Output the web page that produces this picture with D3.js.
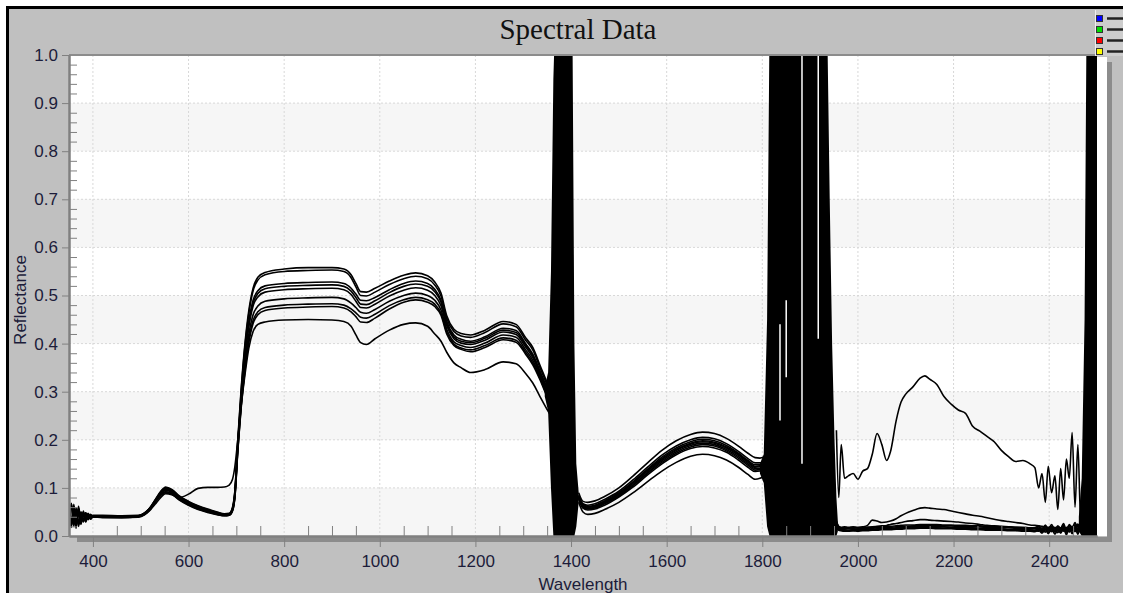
<!DOCTYPE html>
<html>
<head>
<meta charset="utf-8">
<script src="https://d3js.org/d3.v7.min.js"></script>
<style>
body { margin: 0; background: #fff; }
</style>
</head>
<body>
<div id="chart"></div>
<script>
// axis ticks
var xTicks = [400, 600, 800, 1000, 1200, 1400, 1600, 1800, 2000, 2200, 2400];
var yTicks = [0.0, 0.1, 0.2, 0.3, 0.4, 0.5, 0.6, 0.7, 0.8, 0.9, 1.0];
var legendColors = ["#0000ff", "#00dd00", "#ff0000", "#ffff00"];

// wavelength knots, segment 1 (350 - 1358 nm)
var wl1 = [350, 355, 360, 365, 370, 375, 380, 385, 390, 395, 400,
	420, 460, 495, 508, 518, 530, 542, 552, 565, 580, 600, 620, 640, 660, 675, 685, 692, 697, 703, 710, 718, 726, 735, 745,
	760, 800, 850, 900, 925, 940, 950, 960, 972, 990, 1020, 1050, 1075, 1100, 1115, 1128, 1140, 1155, 1170, 1190,
	1220, 1258, 1285, 1305, 1320, 1335, 1350, 1358];

var s1_a = [.064, .022, .060, .024, .054, .030, .048, .034, .045, .037, .041,
	.040, .039, .040, .046, .056, .074, .092, .102, .097, .084, .072, .063, .056, .050, .046, .047, .060, .095, .200, .305, .400, .468, .515, .538,
	.548, .555, .558, .558, .555, .543, .525, .508, .507, .515, .530, .542, .547, .541, .528, .505, .458, .430, .421, .418,
	.428, .446, .440, .412, .392, .355, .318, .295];
var s2_a = [.025, .063, .020, .058, .027, .050, .031, .046, .035, .043, .040,
	.041, .040, .041, .047, .057, .075, .093, .100, .096, .083, .071, .062, .055, .049, .045, .046, .058, .093, .195, .300, .395, .462, .510, .532,
	.543, .550, .552, .553, .550, .537, .518, .500, .499, .507, .523, .535, .540, .535, .522, .499, .452, .425, .416, .413,
	.423, .441, .435, .407, .387, .350, .313, .290];
var s3_a = [.052, .018, .066, .027, .055, .026, .046, .033, .047, .037, .042,
	.039, .038, .040, .045, .054, .072, .089, .098, .094, .081, .069, .060, .054, .048, .045, .046, .057, .090, .190, .290, .380, .445, .490, .510,
	.520, .525, .527, .528, .525, .515, .503, .490, .489, .496, .512, .525, .530, .525, .513, .490, .446, .418, .409, .405,
	.414, .432, .427, .400, .378, .343, .307, .286];
var s4_a = [.066, .030, .048, .016, .058, .027, .052, .030, .046, .036, .041,
	.042, .041, .042, .048, .057, .074, .090, .097, .093, .080, .068, .059, .053, .047, .044, .045, .056, .088, .188, .288, .375, .440, .484, .504,
	.514, .519, .521, .522, .519, .509, .496, .482, .481, .489, .506, .519, .524, .519, .508, .486, .442, .414, .405, .402,
	.411, .428, .423, .397, .375, .340, .304, .283];
var s5_a = [.030, .068, .024, .054, .020, .050, .029, .048, .034, .044, .039,
	.040, .040, .041, .046, .055, .072, .088, .095, .091, .079, .067, .058, .052, .046, .043, .044, .055, .086, .185, .285, .370, .434, .478, .497,
	.507, .512, .514, .515, .512, .502, .488, .475, .474, .482, .499, .511, .516, .511, .500, .479, .437, .410, .401, .398,
	.407, .424, .419, .393, .371, .337, .300, .281];
var s6_a = [.058, .024, .061, .030, .046, .024, .050, .036, .043, .035, .040,
	.038, .038, .039, .044, .053, .069, .085, .092, .089, .077, .066, .057, .051, .046, .043, .044, .054, .084, .180, .275, .355, .418, .460, .478,
	.488, .493, .495, .496, .493, .484, .475, .465, .463, .471, .488, .500, .505, .500, .490, .470, .430, .404, .396, .392,
	.401, .418, .413, .387, .365, .332, .296, .278];
var s7_a = [.035, .067, .028, .057, .023, .047, .033, .048, .037, .045, .040,
	.041, .041, .042, .047, .055, .071, .086, .092, .088, .076, .065, .056, .050, .045, .042, .043, .053, .082, .178, .270, .348, .407, .448, .466,
	.475, .480, .482, .483, .480, .472, .464, .455, .453, .461, .479, .491, .496, .491, .482, .463, .424, .399, .391, .387,
	.396, .412, .407, .382, .360, .328, .292, .275];
var s8_a = [.061, .028, .050, .021, .055, .034, .043, .029, .045, .039, .043,
	.043, .042, .043, .048, .056, .071, .085, .090, .087, .075, .064, .055, .049, .044, .042, .043, .052, .080, .175, .265, .343, .402, .442, .460,
	.469, .474, .476, .477, .474, .466, .456, .445, .444, .453, .472, .486, .491, .486, .477, .459, .420, .396, .388, .383,
	.392, .408, .403, .378, .356, .325, .289, .272];
var s9_a = [.040, .022, .057, .030, .062, .029, .048, .033, .041, .036, .040,
	.040, .040, .041, .045, .052, .066, .080, .088, .086, .080, .087, .099, .101, .101, .102, .106, .118, .145, .200, .270, .335, .390, .425, .440,
	.445, .449, .450, .449, .446, .436, .418, .402, .398, .410, .428, .440, .443, .436, .420, .405, .382, .360, .350, .340,
	.346, .362, .358, .338, .318, .290, .263, .250];

// segment 2 (1416 - 1805 nm)
var wl2 = [1416, 1425, 1435, 1450, 1470, 1500, 1530, 1560, 1590, 1620, 1650, 1675, 1700, 1725, 1750, 1770, 1785, 1795, 1805];
var s1_b = [.090, .072, .070, .073, .082, .100, .125, .152, .178, .198, .211, .216, .213, .203, .187, .172, .163, .162, .165];
var s2_b = [.085, .067, .064, .067, .076, .093, .117, .143, .168, .187, .200, .205, .202, .192, .176, .161, .152, .152, .155];
var s3_b = [.083, .065, .062, .064, .073, .090, .113, .139, .164, .183, .196, .201, .198, .188, .172, .157, .148, .148, .152];
var s4_b = [.082, .063, .060, .063, .071, .088, .111, .137, .161, .180, .193, .198, .195, .185, .170, .155, .145, .146, .149];
var s5_b = [.081, .062, .059, .062, .070, .087, .110, .135, .159, .178, .191, .196, .193, .183, .168, .153, .143, .144, .148];
var s6_b = [.080, .061, .057, .060, .068, .085, .107, .132, .156, .175, .188, .193, .190, .180, .165, .150, .140, .141, .145];
var s7_b = [.079, .059, .056, .058, .067, .083, .105, .130, .153, .172, .185, .190, .187, .177, .162, .147, .137, .138, .142];
var s8_b = [.077, .058, .054, .056, .064, .081, .102, .127, .150, .169, .182, .186, .183, .174, .158, .143, .134, .135, .139];
var s9_b = [.070, .050, .045, .047, .055, .070, .090, .113, .135, .153, .166, .170, .167, .158, .143, .128, .118, .120, .125];

// segment 3 (1955 - 2472 nm)
var wl3 = [1955, 1960, 1965, 1972, 1980, 1990, 2000, 2010, 2020, 2030,
	2040, 2050, 2060, 2068, 2080, 2090, 2100, 2115, 2130, 2140,
	2150, 2165, 2180, 2195, 2210, 2225, 2240, 2255, 2270, 2285,
	2300, 2315, 2330, 2345, 2360, 2370, 2378, 2385, 2392, 2398,
	2405, 2412, 2418, 2424, 2430, 2436, 2442, 2448, 2454, 2460,
	2466, 2472];
var s1_c = [.030, .020, .018, .019, .018, .019, .018, .019, .022, .033,
	.031, .028, .029, .031, .036, .042, .047, .053, .058, .059,
	.058, .056, .055, .052, .049, .046, .043, .041, .038, .035,
	.032, .030, .028, .026, .023, .022, .021, .020, .019, .018,
	.020, .017, .019, .016, .020, .015, .022, .017, .020, .025,
	.015, .030];
var s2_c = [.025, .016, .017, .016, .017, .016, .017, .017, .018, .019,
	.020, .021, .022, .024, .026, .028, .030, .032, .034, .034,
	.033, .032, .031, .030, .029, .027, .026, .024, .022, .021,
	.020, .019, .018, .017, .016, .016, .015, .017, .013, .016,
	.012, .018, .013, .017, .011, .016, .012, .020, .010, .022,
	.012, .030];
var s3_c = [.018, .012, .011, .010, .010, .011, .010, .011, .011, .012,
	.012, .013, .013, .013, .014, .014, .015, .015, .016, .016,
	.016, .015, .015, .015, .014, .014, .013, .013, .012, .012,
	.012, .011, .011, .010, .010, .009, .012, .006, .013, .005,
	.014, .004, .012, .006, .015, .003, .016, .005, .018, .004,
	.020, .010];
var s4_c = [.022, .015, .013, .013, .012, .013, .013, .013, .014, .014,
	.015, .015, .016, .016, .017, .018, .018, .019, .019, .020,
	.020, .019, .019, .018, .018, .017, .017, .016, .016, .015,
	.015, .014, .014, .013, .013, .012, .016, .009, .017, .010,
	.018, .008, .015, .011, .019, .007, .017, .012, .021, .009,
	.024, .015];
var s5_c = [.026, .017, .015, .015, .015, .014, .015, .015, .016, .016,
	.017, .017, .018, .018, .019, .020, .020, .021, .022, .022,
	.022, .022, .021, .021, .020, .020, .019, .019, .018, .018,
	.017, .017, .016, .016, .015, .015, .019, .011, .021, .012,
	.020, .010, .018, .014, .022, .009, .020, .015, .024, .011,
	.027, .018];
var s6_c = [.015, .013, .012, .012, .012, .012, .012, .013, .013, .013,
	.014, .014, .014, .015, .015, .016, .016, .017, .017, .017,
	.017, .017, .016, .016, .016, .015, .015, .015, .014, .014,
	.014, .013, .013, .013, .012, .012, .010, .015, .008, .016,
	.009, .017, .007, .016, .010, .018, .008, .019, .009, .022,
	.012, .020];
var s7_c = [.030, .019, .017, .017, .016, .017, .017, .017, .018, .018,
	.019, .019, .020, .020, .021, .022, .023, .023, .024, .024,
	.024, .024, .023, .023, .022, .022, .021, .021, .020, .020,
	.019, .019, .018, .018, .017, .017, .021, .013, .023, .014,
	.024, .012, .021, .016, .026, .011, .024, .017, .028, .013,
	.030, .020];
var s8_c = [.020, .014, .012, .011, .011, .011, .012, .012, .012, .013,
	.013, .014, .014, .014, .015, .015, .016, .016, .016, .017,
	.017, .016, .016, .016, .015, .015, .014, .014, .014, .013,
	.013, .013, .012, .012, .012, .011, .014, .008, .015, .007,
	.016, .009, .014, .008, .017, .006, .015, .010, .019, .007,
	.021, .013];
var s9_c = [.220, .080, .190, .120, .125, .130, .118, .135, .140, .170,
	.213, .190, .157, .175, .240, .278, .295, .310, .328, .333,
	.326, .315, .290, .274, .262, .255, .228, .218, .207, .196,
	.178, .165, .155, .157, .150, .142, .100, .130, .070, .145,
	.090, .125, .055, .140, .075, .160, .120, .215, .060, .190,
	.030, .100];

// water absorption bands (noise envelopes)
var band1Wl = [1345, 1352, 1358, 1363, 1366, 1399, 1403, 1407, 1411, 1416];
var band1Hi = [0.31, 0.34, 0.55, 0.95, 1.05, 1.05, 1.05, 0.40, 0.15, 0.09];
var band1Lo = [0.29, 0.26, 0.10, 0.00, 0.00, 0.00, 0.00, 0.00, 0.02, 0.07];
var band2Wl = [1795, 1803, 1810, 1815, 1936, 1941, 1946, 1951, 1955, 1958];
var band2Hi = [0.15, 0.17, 0.45, 1.05, 1.05, 0.70, 0.40, 0.20, 0.08, 0.03];
var band2Lo = [0.13, 0.11, 0.02, 0.00, 0.00, 0.00, 0.00, 0.00, 0.00, 0.01];
var band3Wl = [2462, 2468, 2474, 2478, 2500];
var band3Hi = [0.04, 0.12, 0.45, 1.05, 1.05];
var band3Lo = [0.01, 0.00, 0.00, 0.00, 0.00];
var gapWl = [1837, 1850, 1883, 1917];
var gapLo = [0.24, 0.33, 0.15, 0.41];
var gapHi = [0.44, 0.49, 1.00, 1.00];

// ---- layout ----
var width = 1123, height = 593;
var plot = { left: 69, right: 1097, top: 55, bottom: 536 };
var axisFont = "Liberation Sans, Arial, sans-serif";
var textColor = "#1c1c3a";

var svg = d3.select("#chart")
	.append("svg")
	.attr("width", width)
	.attr("height", height);

// outer frame
svg.append("rect")
	.attr("x", 7.5).attr("y", 7.5)
	.attr("width", width).attr("height", height)
	.attr("fill", "#c0c0c0")
	.attr("stroke", "#000")
	.attr("stroke-width", 3);

var x = d3.scaleLinear().domain([350, 2500]).range([plot.left, plot.right]);
var y = d3.scaleLinear().domain([0, 1]).range([plot.bottom, plot.top]);

// plot background with alternating bands
svg.append("rect")
	.attr("x", plot.left).attr("y", plot.top)
	.attr("width", plot.right - plot.left).attr("height", plot.bottom - plot.top)
	.attr("fill", "#fff");

svg.selectAll("band")
	.data(yTicks.filter(function (d, i) { return i % 2 == 0 && i < yTicks.length - 1; }))
	.enter()
	.append("rect")
	.attr("x", plot.left)
	.attr("width", plot.right - plot.left)
	.attr("y", function (d) { return y(d + 0.1); })
	.attr("height", function (d) { return y(d) - y(d + 0.1); })
	.attr("fill", "#f6f6f6");

// dotted grid
svg.selectAll("vgrid")
	.data(xTicks)
	.enter()
	.append("line")
	.attr("x1", function (d) { return x(d); })
	.attr("x2", function (d) { return x(d); })
	.attr("y1", plot.top).attr("y2", plot.bottom)
	.attr("stroke", "#d8d8d8")
	.attr("stroke-dasharray", "2,2");

svg.selectAll("hgrid")
	.data(yTicks.slice(1, -1))
	.enter()
	.append("line")
	.attr("x1", plot.left).attr("x2", plot.right)
	.attr("y1", function (d) { return y(d); })
	.attr("y2", function (d) { return y(d); })
	.attr("stroke", "#d8d8d8")
	.attr("stroke-dasharray", "2,2");

// clip for data
svg.append("clipPath").attr("id", "clip")
	.append("rect")
	.attr("x", plot.left).attr("y", plot.top)
	.attr("width", plot.right - plot.left).attr("height", plot.bottom - plot.top);

var dataG = svg.append("g").attr("clip-path", "url(#clip)");

var line = d3.line()
	.x(function (d) { return x(d[0]); })
	.y(function (d) { return y(d[1]); })
	.curve(d3.curveMonotoneX);

var segments = [
	[wl1, [s1_a, s2_a, s3_a, s4_a, s5_a, s6_a, s7_a, s8_a, s9_a]],
	[wl2, [s1_b, s2_b, s3_b, s4_b, s5_b, s6_b, s7_b, s8_b, s9_b]],
	[wl3, [s1_c, s2_c, s3_c, s4_c, s5_c, s6_c, s7_c, s8_c, s9_c]]
];

segments.forEach(function (seg) {
	dataG.selectAll(null)
		.data(seg[1])
		.enter()
		.append("path")
		.attr("d", function (vals) { return line(d3.zip(seg[0], vals)); })
		.attr("fill", "none")
		.attr("stroke", "#000")
		.attr("stroke-width", 1.6)
		.attr("stroke-linejoin", "round");
});

var area = d3.area()
	.x(function (d) { return x(d[0]); })
	.y0(function (d) { return y(d[1]); })
	.y1(function (d) { return y(d[2]); });

[[band1Wl, band1Lo, band1Hi], [band2Wl, band2Lo, band2Hi], [band3Wl, band3Lo, band3Hi]].forEach(function (b) {
	dataG.append("path")
		.attr("d", area(d3.zip(b[0], b[1], b[2])))
		.attr("fill", "#000");
});

dataG.selectAll("gaps")
	.data(d3.zip(gapWl, gapLo, gapHi))
	.enter()
	.append("line")
	.attr("x1", function (d) { return x(d[0]); })
	.attr("x2", function (d) { return x(d[0]); })
	.attr("y1", function (d) { return y(d[1]); })
	.attr("y2", function (d) { return y(d[2]); })
	.attr("stroke", "#fff")
	.attr("stroke-width", 1.5);

// white strip, shadows, top border
svg.append("rect").attr("x", plot.right).attr("y", plot.top + 2)
	.attr("width", 10).attr("height", plot.bottom - plot.top - 2).attr("fill", "#fff");
svg.append("rect").attr("x", plot.right + 10).attr("y", plot.top + 7)
	.attr("width", 5).attr("height", plot.bottom - plot.top - 1).attr("fill", "#8c8c8c");
svg.append("rect").attr("x", plot.left + 8).attr("y", plot.bottom + 1)
	.attr("width", plot.right - plot.left + 7).attr("height", 5).attr("fill", "#8c8c8c");
svg.append("line")
	.attr("x1", plot.left).attr("x2", plot.right)
	.attr("y1", plot.top).attr("y2", plot.top)
	.attr("stroke", "#8c8c8c").attr("stroke-width", 2);

// y axis
var yMinor = d3.range(0, 51).filter(function (i) { return i % 5 != 0; }).map(function (i) { return i / 50; });
var xMinor = d3.range(400, 2500, 50).filter(function (d) { return d % 200 != 0; });

function styleAxis(g) {
	g.attr("font-size", 17).attr("font-family", axisFont);
	g.selectAll("line").attr("stroke", "#808080");
	g.selectAll("path").attr("stroke", "#808080").attr("stroke-width", 2);
	g.selectAll("text").attr("fill", textColor);
}

svg.append("g")
	.attr("transform", "translate(" + plot.left + ",0)")
	.call(d3.axisLeft(y).tickValues(yMinor).tickSize(-8).tickSizeOuter(0).tickFormat(""))
	.call(styleAxis);

svg.append("g")
	.attr("transform", "translate(" + plot.left + ",0)")
	.call(d3.axisLeft(y).tickValues(yTicks).tickSize(7).tickSizeOuter(0).tickPadding(4).tickFormat(d3.format(".1f")))
	.call(styleAxis);

// x axis
svg.append("g")
	.attr("transform", "translate(0," + plot.bottom + ")")
	.call(d3.axisBottom(x).tickValues(xMinor).tickSize(-10).tickSizeOuter(0).tickFormat(""))
	.call(styleAxis);

var xAxis = svg.append("g")
	.attr("transform", "translate(0," + plot.bottom + ")")
	.call(d3.axisBottom(x).tickValues(xTicks).tickSize(11).tickSizeOuter(0).tickPadding(8).tickFormat(d3.format("d")))
	.call(styleAxis);
xAxis.select(".domain").raise();

// titles
svg.append("text")
	.attr("x", 578).attr("y", 39)
	.attr("text-anchor", "middle")
	.attr("font-family", "Liberation Serif, Times New Roman, serif")
	.attr("font-size", 29)
	.attr("fill", "#111")
	.text("Spectral Data");

svg.append("text")
	.attr("transform", "translate(26,300)rotate(-90)")
	.attr("text-anchor", "middle")
	.attr("font-family", axisFont)
	.attr("font-size", 17)
	.attr("fill", textColor)
	.text("Reflectance");

svg.append("text")
	.attr("x", (plot.left + plot.right) / 2).attr("y", 590)
	.attr("text-anchor", "middle")
	.attr("font-family", axisFont)
	.attr("font-size", 17)
	.attr("fill", textColor)
	.text("Wavelength");

// legend button
svg.append("rect").attr("x", 1095).attr("y", 10).attr("width", 30).attr("height", 46).attr("fill", "#cdcdcd");
svg.append("line").attr("x1", 1095.5).attr("x2", 1095.5).attr("y1", 10).attr("y2", 56).attr("stroke", "#eee");

svg.selectAll("legsq")
	.data(legendColors)
	.enter()
	.append("rect")
	.attr("x", 1096.5)
	.attr("y", function (d, i) { return 15.5 + i * 11; })
	.attr("width", 6).attr("height", 6)
	.attr("fill", function (d) { return d; })
	.attr("stroke", "#333").attr("stroke-width", 1);

svg.selectAll("legln")
	.data(legendColors)
	.enter()
	.append("line")
	.attr("x1", 1107).attr("x2", 1123)
	.attr("y1", function (d, i) { return 18.5 + i * 11; })
	.attr("y2", function (d, i) { return 18.5 + i * 11; })
	.attr("stroke", "#222").attr("stroke-width", 2.5);
</script>
</body>
</html>
